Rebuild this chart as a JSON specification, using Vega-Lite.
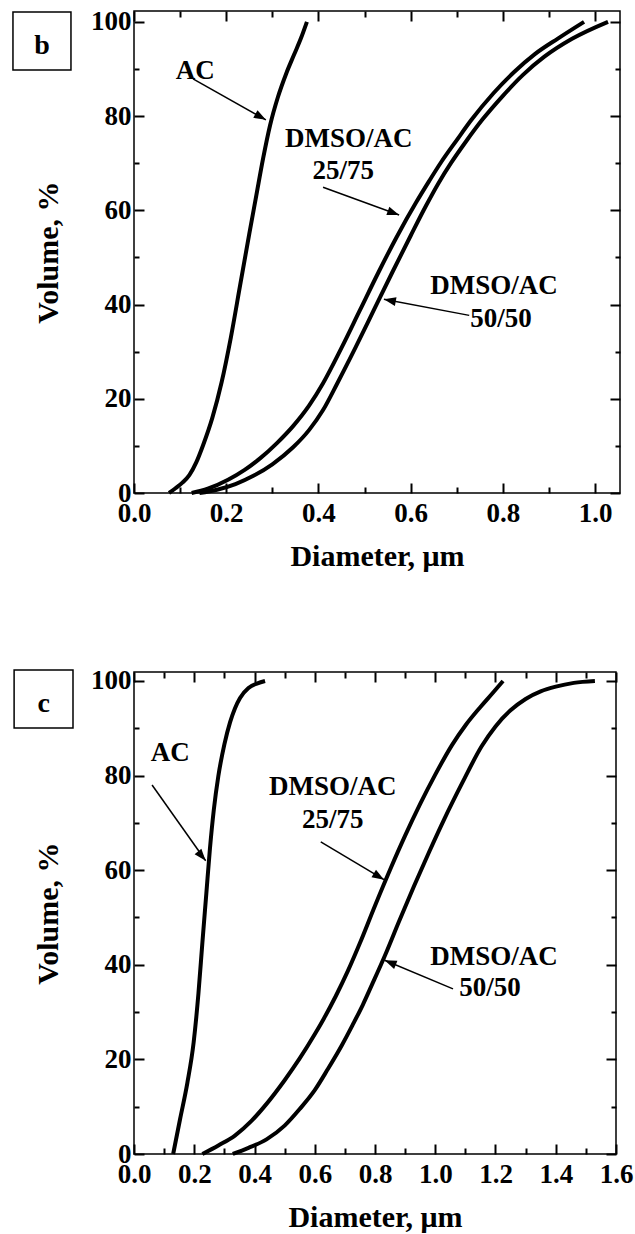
{
  "$schema": "https://vega.github.io/schema/vega-lite/v6.json",
  "background": "white",
  "padding": {"left": 11, "top": 7, "right": 5, "bottom": 5},
  "bounds": "flush",
  "spacing": 179,
  "config": {
    "view": {"stroke": "black", "strokeWidth": 1.5},
    "axis": {"domain": false, "grid": false, "ticks": true, "tickColor": "black", "tickWidth": 2, "tickOpacity": 1, "labelColor": "black", "titleColor": "black", "labelFont": "Liberation Serif", "titleFont": "Liberation Serif", "labelFontWeight": "bold", "titleFontWeight": "bold", "labelFontSize": 27, "titleFontSize": 30, "labelFlush": false, "labelOverlap": false, "labelBound": false},
    "text": {"font": "Liberation Serif", "fontWeight": "bold", "color": "black"}
  },
  "datasets": {
    "b_curves": [
      {"s": "AC", "d": 0.076, "v": 0}, {"s": "AC", "d": 0.09, "v": 1}, {"s": "AC", "d": 0.105, "v": 2.2}, {"s": "AC", "d": 0.12, "v": 3.8}, {"s": "AC", "d": 0.135, "v": 6.5}, {"s": "AC", "d": 0.15, "v": 10.2}, {"s": "AC", "d": 0.17, "v": 16}, {"s": "AC", "d": 0.19, "v": 23.5}, {"s": "AC", "d": 0.21, "v": 33}, {"s": "AC", "d": 0.23, "v": 44}, {"s": "AC", "d": 0.25, "v": 55}, {"s": "AC", "d": 0.265, "v": 63}, {"s": "AC", "d": 0.28, "v": 71}, {"s": "AC", "d": 0.295, "v": 78}, {"s": "AC", "d": 0.312, "v": 84}, {"s": "AC", "d": 0.33, "v": 89}, {"s": "AC", "d": 0.347, "v": 93}, {"s": "AC", "d": 0.362, "v": 96.5}, {"s": "AC", "d": 0.375, "v": 100},
      {"s": "25/75", "d": 0.125, "v": 0}, {"s": "25/75", "d": 0.16, "v": 0.9}, {"s": "25/75", "d": 0.204, "v": 2.8}, {"s": "25/75", "d": 0.24, "v": 4.9}, {"s": "25/75", "d": 0.274, "v": 7.4}, {"s": "25/75", "d": 0.31, "v": 10.6}, {"s": "25/75", "d": 0.345, "v": 14.2}, {"s": "25/75", "d": 0.38, "v": 18.6}, {"s": "25/75", "d": 0.41, "v": 23.3}, {"s": "25/75", "d": 0.45, "v": 30.8}, {"s": "25/75", "d": 0.49, "v": 38.8}, {"s": "25/75", "d": 0.53, "v": 46.8}, {"s": "25/75", "d": 0.57, "v": 54.4}, {"s": "25/75", "d": 0.612, "v": 61.7}, {"s": "25/75", "d": 0.64, "v": 66.2}, {"s": "25/75", "d": 0.666, "v": 70.2}, {"s": "25/75", "d": 0.7, "v": 74.9}, {"s": "25/75", "d": 0.731, "v": 79.1}, {"s": "25/75", "d": 0.78, "v": 84.9}, {"s": "25/75", "d": 0.825, "v": 89.4}, {"s": "25/75", "d": 0.87, "v": 93.2}, {"s": "25/75", "d": 0.92, "v": 96.5}, {"s": "25/75", "d": 0.976, "v": 100},
      {"s": "50/50", "d": 0.142, "v": 0}, {"s": "50/50", "d": 0.18, "v": 0.7}, {"s": "50/50", "d": 0.22, "v": 1.9}, {"s": "50/50", "d": 0.26, "v": 3.7}, {"s": "50/50", "d": 0.3, "v": 6.1}, {"s": "50/50", "d": 0.345, "v": 9.7}, {"s": "50/50", "d": 0.38, "v": 13.4}, {"s": "50/50", "d": 0.41, "v": 17.6}, {"s": "50/50", "d": 0.441, "v": 23.3}, {"s": "50/50", "d": 0.48, "v": 30.8}, {"s": "50/50", "d": 0.52, "v": 38.8}, {"s": "50/50", "d": 0.56, "v": 46.8}, {"s": "50/50", "d": 0.6, "v": 54.6}, {"s": "50/50", "d": 0.633, "v": 60.9}, {"s": "50/50", "d": 0.66, "v": 65.7}, {"s": "50/50", "d": 0.688, "v": 70.1}, {"s": "50/50", "d": 0.72, "v": 74.6}, {"s": "50/50", "d": 0.756, "v": 79.3}, {"s": "50/50", "d": 0.8, "v": 84.3}, {"s": "50/50", "d": 0.843, "v": 88.7}, {"s": "50/50", "d": 0.89, "v": 92.6}, {"s": "50/50", "d": 0.95, "v": 96.4}, {"s": "50/50", "d": 1.028, "v": 100}
    ],
    "b_labels": [
      {"t": "AC", "x": 0.133, "y": 87.9},
      {"t": "DMSO/AC", "x": 0.466, "y": 73.4},
      {"t": "25/75", "x": 0.454, "y": 66.6},
      {"t": "DMSO/AC", "x": 0.781, "y": 42.2},
      {"t": "50/50", "x": 0.796, "y": 35.2}
    ],
    "b_arrows": [
      {"n": "AC", "x": 0.128, "y": 87.9, "x2": 0.286, "y2": 79.2},
      {"n": "25/75", "x": 0.41, "y": 64.9, "x2": 0.575, "y2": 59.0},
      {"n": "50/50", "x": 0.727, "y": 37.7, "x2": 0.542, "y2": 41.1}
    ],
    "b_box": [{"t": "b", "x": -0.2625, "x2": -0.1367, "y": 102.1, "y2": 89.8, "tx": -0.1996, "ty": 93.1}],
    "c_curves": [
      {"s": "AC", "d": 0.13, "v": 0}, {"s": "AC", "d": 0.153, "v": 7.4}, {"s": "AC", "d": 0.177, "v": 15}, {"s": "AC", "d": 0.198, "v": 23.6}, {"s": "AC", "d": 0.214, "v": 34}, {"s": "AC", "d": 0.227, "v": 44.7}, {"s": "AC", "d": 0.24, "v": 55}, {"s": "AC", "d": 0.252, "v": 64.5}, {"s": "AC", "d": 0.265, "v": 72.8}, {"s": "AC", "d": 0.28, "v": 79.9}, {"s": "AC", "d": 0.3, "v": 86.6}, {"s": "AC", "d": 0.319, "v": 91.3}, {"s": "AC", "d": 0.335, "v": 94.2}, {"s": "AC", "d": 0.352, "v": 96.4}, {"s": "AC", "d": 0.38, "v": 98.5}, {"s": "AC", "d": 0.41, "v": 99.5}, {"s": "AC", "d": 0.435, "v": 100},
      {"s": "25/75", "d": 0.227, "v": 0}, {"s": "25/75", "d": 0.28, "v": 1.8}, {"s": "25/75", "d": 0.335, "v": 3.9}, {"s": "25/75", "d": 0.39, "v": 7}, {"s": "25/75", "d": 0.44, "v": 10.6}, {"s": "25/75", "d": 0.5, "v": 15.6}, {"s": "25/75", "d": 0.55, "v": 20.2}, {"s": "25/75", "d": 0.6, "v": 25.3}, {"s": "25/75", "d": 0.63, "v": 28.6}, {"s": "25/75", "d": 0.67, "v": 33.4}, {"s": "25/75", "d": 0.71, "v": 38.7}, {"s": "25/75", "d": 0.75, "v": 44.6}, {"s": "25/75", "d": 0.8, "v": 52.5}, {"s": "25/75", "d": 0.85, "v": 60.1}, {"s": "25/75", "d": 0.9, "v": 67.3}, {"s": "25/75", "d": 0.95, "v": 74}, {"s": "25/75", "d": 1.0, "v": 80.2}, {"s": "25/75", "d": 1.055, "v": 86.4}, {"s": "25/75", "d": 1.1, "v": 90.6}, {"s": "25/75", "d": 1.15, "v": 94.5}, {"s": "25/75", "d": 1.19, "v": 97.4}, {"s": "25/75", "d": 1.225, "v": 100},
      {"s": "50/50", "d": 0.328, "v": 0}, {"s": "50/50", "d": 0.38, "v": 1.3}, {"s": "50/50", "d": 0.44, "v": 3.1}, {"s": "50/50", "d": 0.5, "v": 6}, {"s": "50/50", "d": 0.55, "v": 9.5}, {"s": "50/50", "d": 0.6, "v": 13.5}, {"s": "50/50", "d": 0.643, "v": 17.9}, {"s": "50/50", "d": 0.69, "v": 23}, {"s": "50/50", "d": 0.725, "v": 27.2}, {"s": "50/50", "d": 0.76, "v": 31.6}, {"s": "50/50", "d": 0.79, "v": 35.8}, {"s": "50/50", "d": 0.832, "v": 41.8}, {"s": "50/50", "d": 0.88, "v": 49.2}, {"s": "50/50", "d": 0.93, "v": 56.7}, {"s": "50/50", "d": 0.98, "v": 63.9}, {"s": "50/50", "d": 1.03, "v": 70.8}, {"s": "50/50", "d": 1.09, "v": 78.5}, {"s": "50/50", "d": 1.154, "v": 86.2}, {"s": "50/50", "d": 1.2, "v": 90.4}, {"s": "50/50", "d": 1.25, "v": 93.8}, {"s": "50/50", "d": 1.3, "v": 96.2}, {"s": "50/50", "d": 1.35, "v": 97.8}, {"s": "50/50", "d": 1.4, "v": 98.8}, {"s": "50/50", "d": 1.46, "v": 99.6}, {"s": "50/50", "d": 1.53, "v": 100}
    ],
    "c_labels": [
      {"t": "AC", "x": 0.12, "y": 83},
      {"t": "DMSO/AC", "x": 0.66, "y": 76},
      {"t": "25/75", "x": 0.66, "y": 69},
      {"t": "DMSO/AC", "x": 1.195, "y": 39.9},
      {"t": "50/50", "x": 1.182, "y": 33.5}
    ],
    "c_arrows": [
      {"n": "AC", "x": 0.06, "y": 78, "x2": 0.238, "y2": 62},
      {"n": "25/75", "x": 0.62, "y": 66, "x2": 0.83, "y2": 58},
      {"n": "50/50", "x": 1.059, "y": 34.9, "x2": 0.832, "y2": 40.95}
    ],
    "c_box": [{"t": "c", "x": -0.398, "x2": -0.2025, "y": 102.3, "y2": 90.05, "tx": -0.3, "ty": 93.4}]
  },
  "vconcat": [
    {
      "width": 486,
      "height": 482,
      "resolve": {"axis": {"x": "independent", "y": "independent"}},
      "layer": [
        {
          "data": {"name": "b_curves"},
          "mark": {"type": "line", "stroke": "black", "strokeWidth": 4, "interpolate": "monotone", "clip": false},
          "encoding": {
            "x": {"field": "d", "type": "quantitative", "scale": {"domain": [0, 1.054], "nice": false, "zero": false}, "axis": {"orient": "bottom", "values": [0, 0.2, 0.4, 0.6, 0.8, 1], "format": ".1f", "offset": -10, "tickSize": 10, "labelPadding": 7, "title": "Diameter, μm", "titlePadding": 15}},
            "y": {"field": "v", "type": "quantitative", "scale": {"domain": [0, 102.3], "nice": false, "zero": false}, "axis": {"orient": "left", "values": [0, 20, 40, 60, 80, 100], "format": "d", "offset": -10, "tickSize": 10, "labelPadding": 3, "title": "Volume, %", "titlePadding": 27}},
            "detail": {"field": "s"}
          }
        },
        {
          "data": {"name": "b_labels"},
          "mark": {"type": "text", "fontSize": 27, "align": "center", "baseline": "alphabetic", "clip": false},
          "encoding": {
            "x": {"field": "x", "type": "quantitative", "scale": {"domain": [0, 1.054], "nice": false, "zero": false}, "axis": {"orient": "bottom", "values": [0.1, 0.3, 0.5, 0.7, 0.9], "offset": -6, "tickSize": 6, "labels": false, "title": null}},
            "y": {"field": "y", "type": "quantitative", "scale": {"domain": [0, 102.3], "nice": false, "zero": false}, "axis": {"orient": "left", "values": [10, 30, 50, 70, 90], "offset": -5, "tickSize": 5, "labels": false, "title": null}},
            "text": {"field": "t"}
          }
        },
        {
          "data": {"name": "b_arrows"},
          "mark": {"type": "rule", "color": "black", "strokeWidth": 1.5, "clip": false},
          "encoding": {
            "x": {"field": "x", "type": "quantitative", "scale": {"domain": [0, 1.054], "nice": false, "zero": false}, "axis": {"orient": "top", "values": [0, 0.2, 0.4, 0.6, 0.8, 1], "offset": -10, "tickSize": 10, "labels": false, "title": null}},
            "y": {"field": "y", "type": "quantitative", "scale": {"domain": [0, 102.3], "nice": false, "zero": false}, "axis": {"orient": "right", "values": [0, 20, 40, 60, 80, 100], "offset": -10, "tickSize": 10, "labels": false, "title": null}},
            "x2": {"field": "x2"},
            "y2": {"field": "y2"}
          }
        },
        {
          "data": {"name": "b_arrows"},
          "transform": [{"filter": "datum.n == 'AC'"}],
          "mark": {"type": "point", "shape": "M0,0L-3,-1.1L-3,1.1Z", "filled": true, "color": "black", "opacity": 1, "strokeWidth": 0, "size": 64, "angle": 29, "clip": false},
          "encoding": {
            "x": {"field": "x2", "type": "quantitative", "scale": {"domain": [0, 1.054], "nice": false, "zero": false}, "axis": {"orient": "top", "values": [0.1, 0.3, 0.5, 0.7, 0.9], "offset": -6, "tickSize": 6, "labels": false, "title": null}},
            "y": {"field": "y2", "type": "quantitative", "scale": {"domain": [0, 102.3], "nice": false, "zero": false}, "axis": {"orient": "right", "values": [10, 30, 50, 70, 90], "offset": -5, "tickSize": 5, "labels": false, "title": null}}
          }
        },
        {
          "data": {"name": "b_arrows"},
          "transform": [{"filter": "datum.n == '25/75'"}],
          "mark": {"type": "point", "shape": "M0,0L-3,-1.1L-3,1.1Z", "filled": true, "color": "black", "opacity": 1, "strokeWidth": 0, "size": 64, "angle": 20, "clip": false},
          "encoding": {
            "x": {"field": "x2", "type": "quantitative", "scale": {"domain": [0, 1.054], "nice": false, "zero": false}, "axis": null},
            "y": {"field": "y2", "type": "quantitative", "scale": {"domain": [0, 102.3], "nice": false, "zero": false}, "axis": null}
          }
        },
        {
          "data": {"name": "b_arrows"},
          "transform": [{"filter": "datum.n == '50/50'"}],
          "mark": {"type": "point", "shape": "M0,0L-3,-1.1L-3,1.1Z", "filled": true, "color": "black", "opacity": 1, "strokeWidth": 0, "size": 64, "angle": 190.7, "clip": false},
          "encoding": {
            "x": {"field": "x2", "type": "quantitative", "scale": {"domain": [0, 1.054], "nice": false, "zero": false}, "axis": null},
            "y": {"field": "y2", "type": "quantitative", "scale": {"domain": [0, 102.3], "nice": false, "zero": false}, "axis": null}
          }
        },
        {
          "data": {"name": "b_box"},
          "mark": {"type": "rect", "fill": "white", "stroke": "black", "strokeWidth": 1.5, "clip": false},
          "encoding": {
            "x": {"field": "x", "type": "quantitative", "scale": {"domain": [0, 1.054], "nice": false, "zero": false}, "axis": null},
            "x2": {"field": "x2"},
            "y": {"field": "y", "type": "quantitative", "scale": {"domain": [0, 102.3], "nice": false, "zero": false}, "axis": null},
            "y2": {"field": "y2"}
          }
        },
        {
          "data": {"name": "b_box"},
          "mark": {"type": "text", "fontSize": 28, "align": "center", "baseline": "alphabetic", "clip": false},
          "encoding": {
            "x": {"field": "tx", "type": "quantitative", "scale": {"domain": [0, 1.054], "nice": false, "zero": false}, "axis": null},
            "y": {"field": "ty", "type": "quantitative", "scale": {"domain": [0, 102.3], "nice": false, "zero": false}, "axis": null},
            "text": {"field": "t"}
          }
        }
      ]
    },
    {
      "width": 482,
      "height": 482,
      "resolve": {"axis": {"x": "independent", "y": "independent"}},
      "layer": [
        {
          "data": {"name": "c_curves"},
          "mark": {"type": "line", "stroke": "black", "strokeWidth": 4, "interpolate": "monotone", "clip": false},
          "encoding": {
            "x": {"field": "d", "type": "quantitative", "scale": {"domain": [0, 1.6], "nice": false, "zero": false}, "axis": {"orient": "bottom", "values": [0, 0.2, 0.4, 0.6, 0.8, 1, 1.2, 1.4, 1.6], "format": ".1f", "offset": -10, "tickSize": 10, "labelPadding": 7, "title": "Diameter, μm", "titlePadding": 15}},
            "y": {"field": "v", "type": "quantitative", "scale": {"domain": [0, 101.9], "nice": false, "zero": false}, "axis": {"orient": "left", "values": [0, 20, 40, 60, 80, 100], "format": "d", "offset": -10, "tickSize": 10, "labelPadding": 3, "title": "Volume, %", "titlePadding": 27}},
            "detail": {"field": "s"}
          }
        },
        {
          "data": {"name": "c_labels"},
          "mark": {"type": "text", "fontSize": 27, "align": "center", "baseline": "alphabetic", "clip": false},
          "encoding": {
            "x": {"field": "x", "type": "quantitative", "scale": {"domain": [0, 1.6], "nice": false, "zero": false}, "axis": {"orient": "bottom", "values": [0.1, 0.3, 0.5, 0.7, 0.9, 1.1, 1.3, 1.5], "offset": -6, "tickSize": 6, "labels": false, "title": null}},
            "y": {"field": "y", "type": "quantitative", "scale": {"domain": [0, 101.9], "nice": false, "zero": false}, "axis": {"orient": "left", "values": [10, 30, 50, 70, 90], "offset": -5, "tickSize": 5, "labels": false, "title": null}},
            "text": {"field": "t"}
          }
        },
        {
          "data": {"name": "c_arrows"},
          "mark": {"type": "rule", "color": "black", "strokeWidth": 1.5, "clip": false},
          "encoding": {
            "x": {"field": "x", "type": "quantitative", "scale": {"domain": [0, 1.6], "nice": false, "zero": false}, "axis": {"orient": "top", "values": [0, 0.2, 0.4, 0.6, 0.8, 1, 1.2, 1.4, 1.6], "offset": -10, "tickSize": 10, "labels": false, "title": null}},
            "y": {"field": "y", "type": "quantitative", "scale": {"domain": [0, 101.9], "nice": false, "zero": false}, "axis": {"orient": "right", "values": [0, 20, 40, 60, 80, 100], "offset": -10, "tickSize": 10, "labels": false, "title": null}},
            "x2": {"field": "x2"},
            "y2": {"field": "y2"}
          }
        },
        {
          "data": {"name": "c_arrows"},
          "transform": [{"filter": "datum.n == 'AC'"}],
          "mark": {"type": "point", "shape": "M0,0L-3,-1.1L-3,1.1Z", "filled": true, "color": "black", "opacity": 1, "strokeWidth": 0, "size": 64, "angle": 50, "clip": false},
          "encoding": {
            "x": {"field": "x2", "type": "quantitative", "scale": {"domain": [0, 1.6], "nice": false, "zero": false}, "axis": {"orient": "top", "values": [0.1, 0.3, 0.5, 0.7, 0.9, 1.1, 1.3, 1.5], "offset": -6, "tickSize": 6, "labels": false, "title": null}},
            "y": {"field": "y2", "type": "quantitative", "scale": {"domain": [0, 101.9], "nice": false, "zero": false}, "axis": {"orient": "right", "values": [10, 30, 50, 70, 90], "offset": -5, "tickSize": 5, "labels": false, "title": null}}
          }
        },
        {
          "data": {"name": "c_arrows"},
          "transform": [{"filter": "datum.n == '25/75'"}],
          "mark": {"type": "point", "shape": "M0,0L-3,-1.1L-3,1.1Z", "filled": true, "color": "black", "opacity": 1, "strokeWidth": 0, "size": 64, "angle": 31, "clip": false},
          "encoding": {
            "x": {"field": "x2", "type": "quantitative", "scale": {"domain": [0, 1.6], "nice": false, "zero": false}, "axis": null},
            "y": {"field": "y2", "type": "quantitative", "scale": {"domain": [0, 101.9], "nice": false, "zero": false}, "axis": null}
          }
        },
        {
          "data": {"name": "c_arrows"},
          "transform": [{"filter": "datum.n == '50/50'"}],
          "mark": {"type": "point", "shape": "M0,0L-3,-1.1L-3,1.1Z", "filled": true, "color": "black", "opacity": 1, "strokeWidth": 0, "size": 64, "angle": 202, "clip": false},
          "encoding": {
            "x": {"field": "x2", "type": "quantitative", "scale": {"domain": [0, 1.6], "nice": false, "zero": false}, "axis": null},
            "y": {"field": "y2", "type": "quantitative", "scale": {"domain": [0, 101.9], "nice": false, "zero": false}, "axis": null}
          }
        },
        {
          "data": {"name": "c_box"},
          "mark": {"type": "rect", "fill": "white", "stroke": "black", "strokeWidth": 1.5, "clip": false},
          "encoding": {
            "x": {"field": "x", "type": "quantitative", "scale": {"domain": [0, 1.6], "nice": false, "zero": false}, "axis": null},
            "x2": {"field": "x2"},
            "y": {"field": "y", "type": "quantitative", "scale": {"domain": [0, 101.9], "nice": false, "zero": false}, "axis": null},
            "y2": {"field": "y2"}
          }
        },
        {
          "data": {"name": "c_box"},
          "mark": {"type": "text", "fontSize": 28, "align": "center", "baseline": "alphabetic", "clip": false},
          "encoding": {
            "x": {"field": "tx", "type": "quantitative", "scale": {"domain": [0, 1.6], "nice": false, "zero": false}, "axis": null},
            "y": {"field": "ty", "type": "quantitative", "scale": {"domain": [0, 101.9], "nice": false, "zero": false}, "axis": null},
            "text": {"field": "t"}
          }
        }
      ]
    }
  ]
}
